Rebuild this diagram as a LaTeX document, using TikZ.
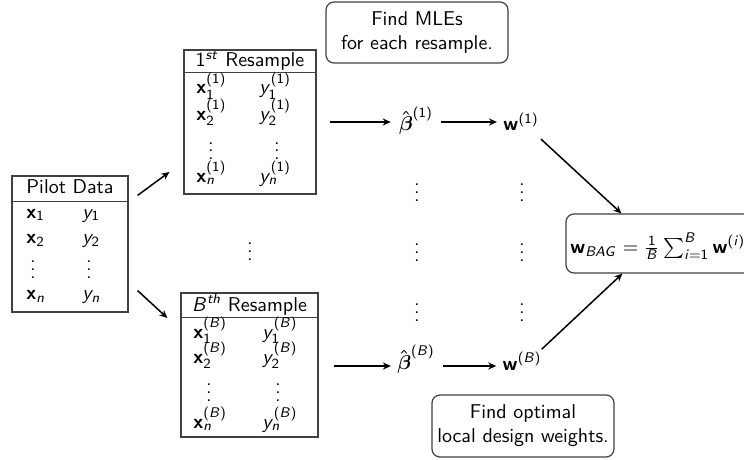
\documentclass[tikz,border=0pt]{standalone}
\usepackage{amsmath}
\usetikzlibrary{arrows.meta,calc}
\renewcommand{\familydefault}{\sfdefault}
% sans-serif math: letters slanted, digits and operators upright, bold upright
\DeclareSymbolFont{sfletters}{OT1}{cmss}{m}{sl}
\SetSymbolFont{operators}{normal}{OT1}{cmss}{m}{n}
\DeclareMathAlphabet{\mathbf}{OT1}{cmss}{bx}{n}
\newcommand\sflet[1]{\DeclareMathSymbol{#1}{\mathalpha}{sfletters}{`#1}}
\sflet a\sflet b\sflet c\sflet d\sflet e\sflet f\sflet g\sflet h\sflet i
\sflet j\sflet k\sflet l\sflet m\sflet n\sflet o\sflet p\sflet q\sflet r
\sflet s\sflet t\sflet u\sflet v\sflet w\sflet x\sflet y\sflet z
\sflet A\sflet B\sflet C\sflet D\sflet E\sflet F\sflet G\sflet H\sflet I
\begin{document}
\begin{tikzpicture}[x=0.5pt,y=-0.5pt,
  every node/.style={font=\sffamily, inner sep=0pt},
  tbl/.style={draw=black!75, line width=0.6pt, rectangle},
  rule/.style={draw=black!75, line width=0.6pt},
  note/.style={draw=black!75, line width=0.6pt, rounded corners=4pt, align=center},
  arr/.style={-{Stealth[length=4pt,width=3.6pt]}, line width=0.75pt},
  cell/.style={anchor=base west},
  dotc/.style={anchor=base}]
\path[use as bounding box, clip] (0,0) rectangle (744,460);

% ---- pilot data table
\node[tbl, minimum width=58pt, minimum height=68pt] (pilot) at (70,244) {};
\draw[rule] ($(pilot.north west)+(0,26)$) -- ($(pilot.north east)+(0,26)$);
\node[anchor=base] (ph) at (70,193) {Pilot Data};
\node[cell] (px1) at (26,218) {$\mathbf{x}_1$};
\node[cell] (py1) at (82,218) {$y_1$};
\node[cell] (px2) at (26,243) {$\mathbf{x}_2$};
\node[cell] (py2) at (82,243) {$y_2$};
\node[dotc] (pxd) at (33,278) {$\vdots$};
\node[dotc] (pyd) at (89,278) {$\vdots$};
\node[cell] (pxn) at (26,299) {$\mathbf{x}_n$};
\node[cell] (pyn) at (82,299) {$y_n$};

% ---- first resample
\node[tbl, minimum width=66pt, minimum height=72pt] (res1) at (250,122) {};
\draw[rule] ($(res1.north west)+(0,23)$) -- ($(res1.north east)+(0,23)$);
\node[anchor=base] (r1h) at (250,67) {$1^{st}$ Resample};
\node[cell] (r1x1) at (196,94) {$\mathbf{x}_1^{(1)}$};
\node[cell] (r1y1) at (259,94) {$y_1^{(1)}$};
\node[cell] (r1x2) at (196,120) {$\mathbf{x}_2^{(1)}$};
\node[cell] (r1y2) at (259,120) {$y_2^{(1)}$};
\node[dotc] (r1xd) at (211,160) {$\vdots$};
\node[dotc] (r1yd) at (277,160) {$\vdots$};
\node[cell] (r1xn) at (196,182) {$\mathbf{x}_n^{(1)}$};
\node[cell] (r1yn) at (259,182) {$y_n^{(1)}$};

% ---- B-th resample
\node[tbl, minimum width=68.5pt, minimum height=72pt] (resB) at (249.5,365) {};
\draw[rule] ($(resB.north west)+(0,25)$) -- ($(resB.north east)+(0,25)$);
\node[anchor=base] (rBh) at (249.5,311) {$B^{th}$ Resample};
\node[cell] (rBx1) at (193,338) {$\mathbf{x}_1^{(B)}$};
\node[cell] (rBy1) at (262,338) {$y_1^{(B)}$};
\node[cell] (rBx2) at (193,363) {$\mathbf{x}_2^{(B)}$};
\node[cell] (rBy2) at (262,363) {$y_2^{(B)}$};
\node[dotc] (rBxd) at (209,401) {$\vdots$};
\node[dotc] (rByd) at (278,401) {$\vdots$};
\node[cell] (rBxn) at (193,428) {$\mathbf{x}_n^{(B)}$};
\node[cell] (rByn) at (262,428) {$y_n^{(B)}$};

% ---- estimates and weights
\node[anchor=base] (beta1) at (416,131) {$\hat{\boldsymbol\beta}^{(1)}$};
\node[anchor=base] (w1) at (521,131) {$\mathbf{w}^{(1)}$};
\node[anchor=base] (betaB) at (416,369) {$\hat{\boldsymbol\beta}^{(B)}$};
\node[anchor=base] (wB) at (522,370) {$\mathbf{w}^{(B)}$};

% ---- vertical ellipses between the rows
\node[dotc] (dm) at (250,260) {$\vdots$};
\node[dotc] (db1) at (417,201) {$\vdots$};
\node[dotc] (db2) at (417,261) {$\vdots$};
\node[dotc] (db3) at (417,321) {$\vdots$};
\node[dotc] (dw1) at (522,201) {$\vdots$};
\node[dotc] (dw2) at (522,261) {$\vdots$};
\node[dotc] (dw3) at (522,321) {$\vdots$};

% ---- comment boxes
\node[note, minimum width=91pt, minimum height=30.5pt] (mle) at (417,32.5)
  {Find MLEs\\for each resample.};
\node[note, minimum width=91pt, minimum height=31pt] (opt) at (523,426)
  {Find optimal\\local design weights.};

% ---- bagged weights
\node[note, minimum width=97pt, minimum height=29.5pt] (wbag) at (663,243.5) {};
\node[anchor=base west] (wbagt) at (570,253)
  {$\mathbf{w}_{BAG}=\frac{1}{B}\sum_{i=1}^{B}\mathbf{w}^{(i)}$};

% ---- connectors
\draw[arr] ($(pilot.north east)+(9,20)$) -- ($(res1.west)+(-14,50)$);
\draw[arr] ($(pilot.south east)+(9,-22)$) -- ($(resB.west)+(-13,-47)$);

\draw[arr] ($(res1.east)+(13,0)$) -- ($(res1.east -| beta1.west)+(-8,0)$);
\draw[arr] ($(res1.east -| beta1.east)+(8,0)$) -- ($(res1.east -| w1.west)+(-6,0)$);
\draw[arr] ($(resB.east)+(15,1)$) -- ($(resB.east -| betaB.west)+(-6,1)$);
\draw[arr] ($(resB.east -| betaB.east)+(8,1)$) -- ($(resB.east -| wB.west)+(-6,1)$);

\draw[arr] ($(w1.east)+(2,17)$) -- ($(wbag.north west)+(56,0)$);
\draw[arr] ($(wB.east)+(0,-12)$) -- ($(wbag.south west)+(57,0)$);
\end{tikzpicture}
\end{document}
